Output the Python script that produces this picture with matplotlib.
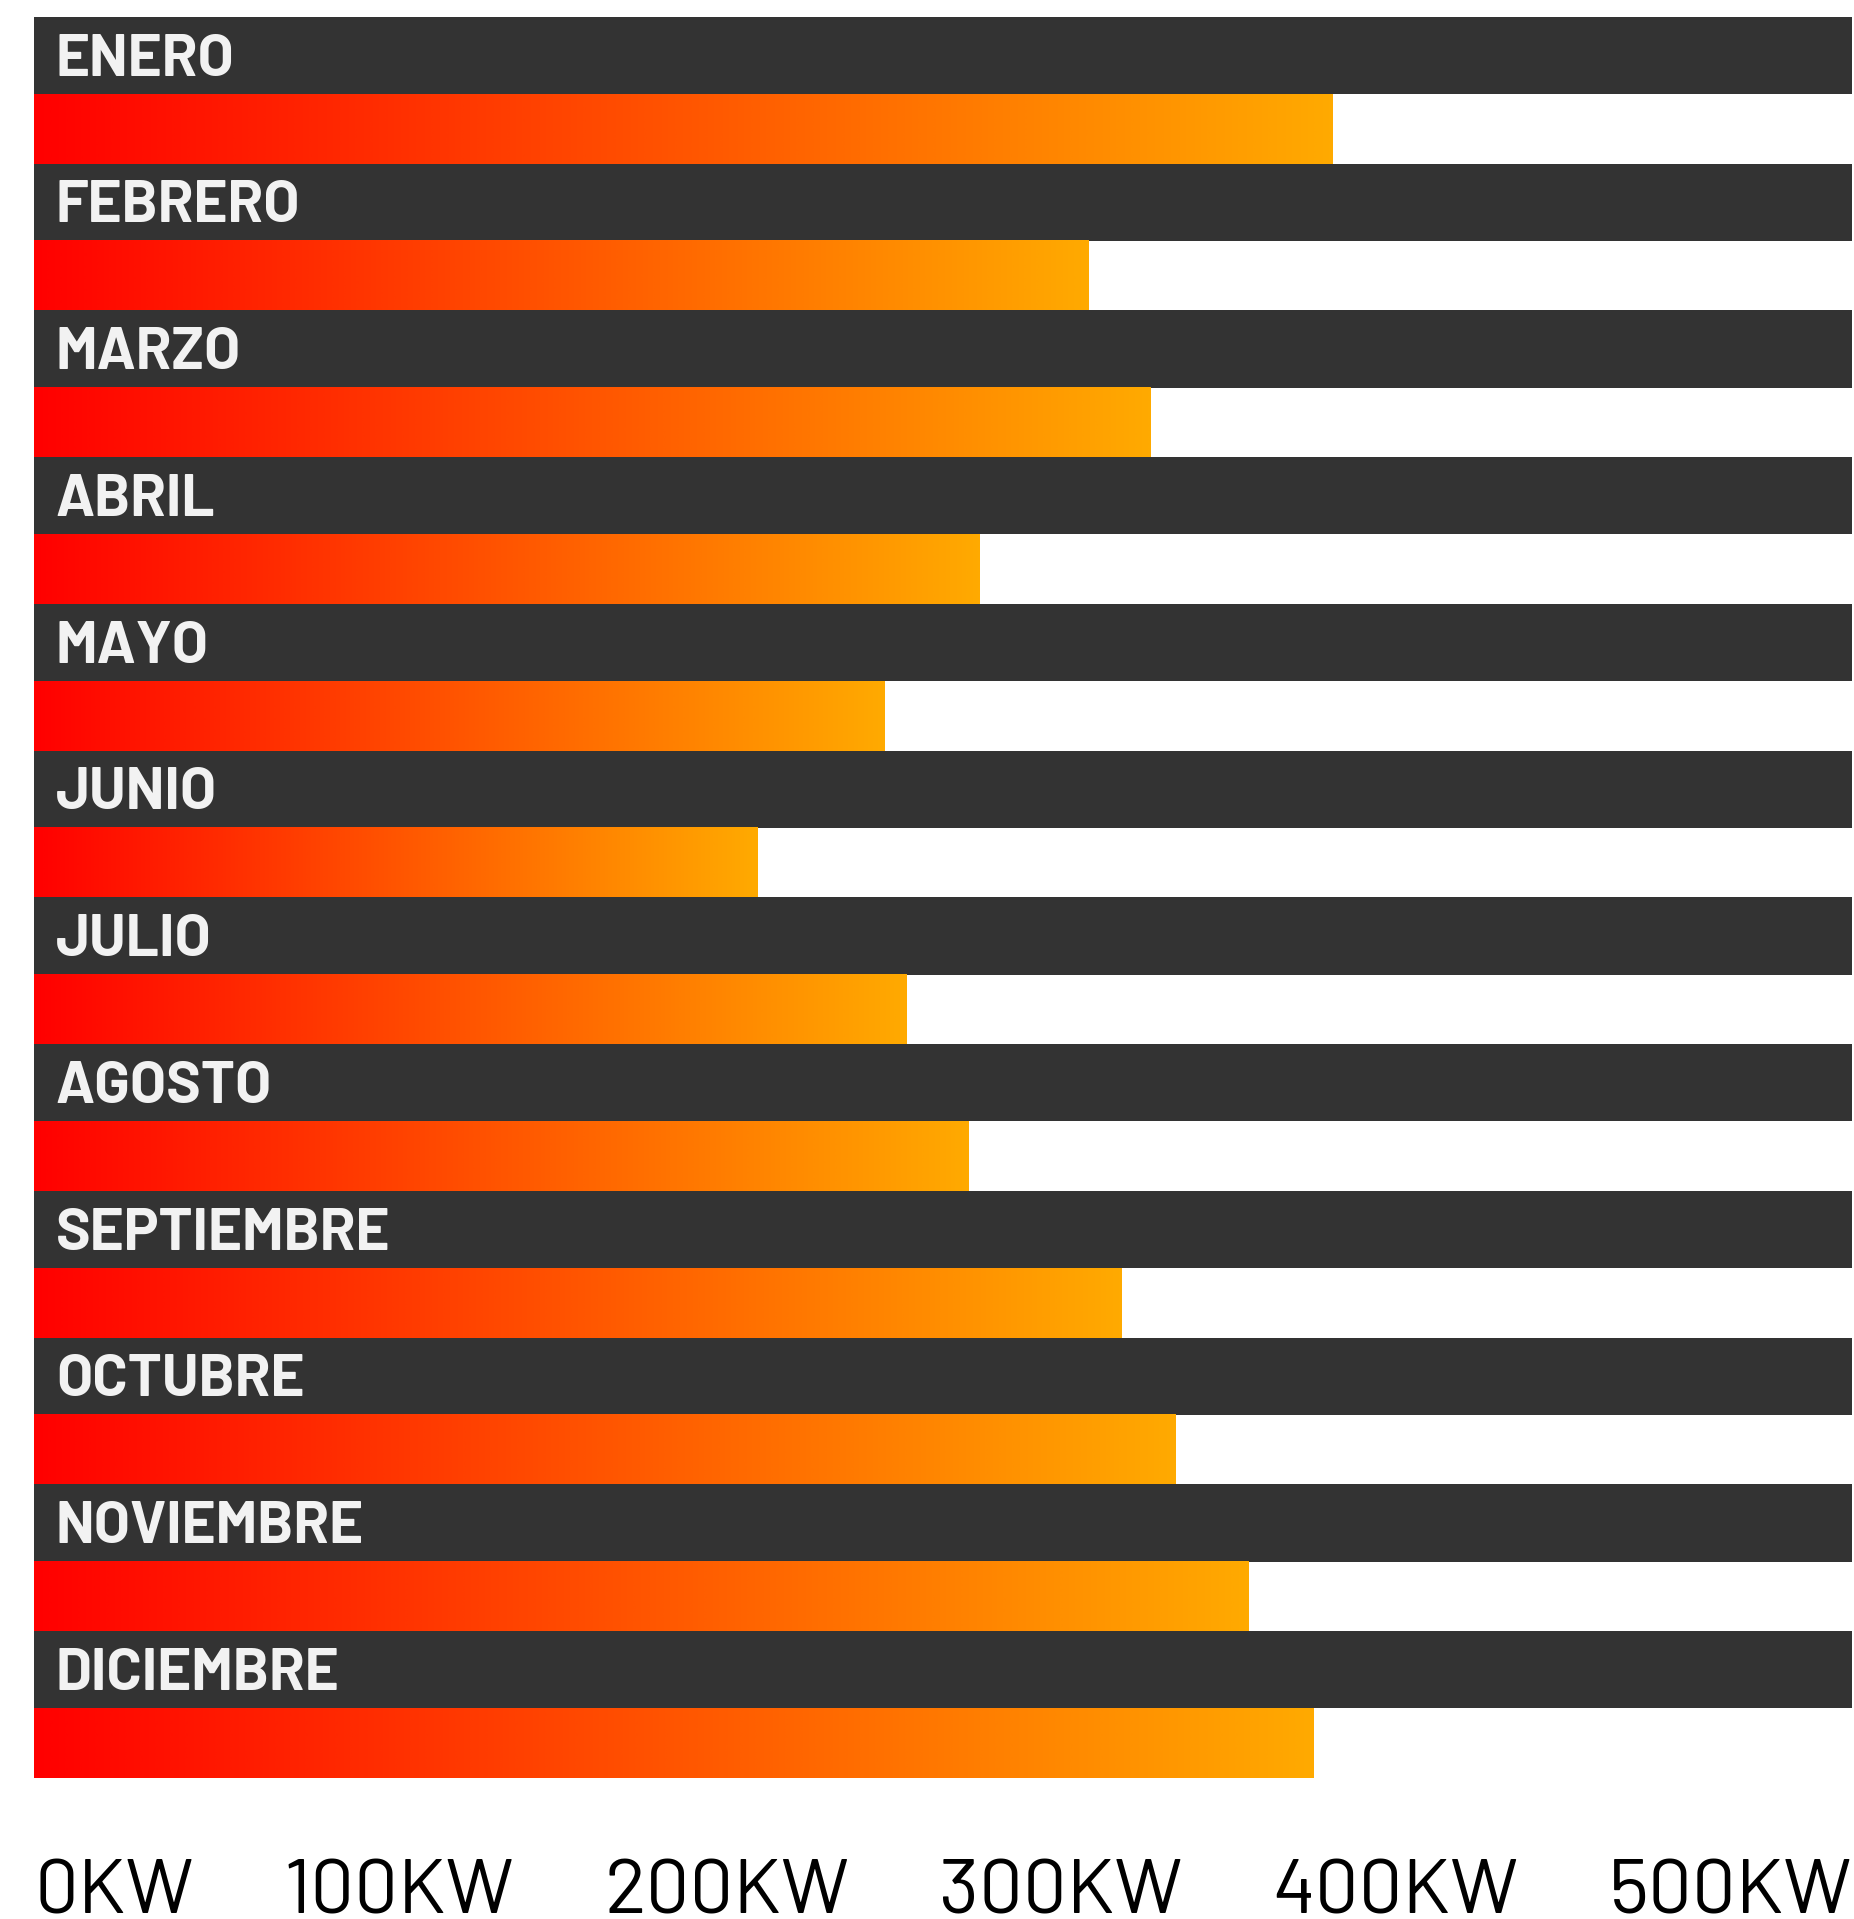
import matplotlib
matplotlib.use("Agg")
import matplotlib.pyplot as plt
import numpy as np
from matplotlib.colors import LinearSegmentedColormap

months = ["ENERO", "FEBRERO", "MARZO", "ABRIL", "MAYO", "JUNIO", "JULIO",
          "AGOSTO", "SEPTIEMBRE", "OCTUBRE", "NOVIEMBRE", "DICIEMBRE"]
values_kw = [357, 290, 307, 260, 234, 199, 240, 257, 299, 314, 334, 352]
axis_max = 500
tick_values = [0, 100, 200, 300, 400, 500]
tick_labels = ["0KW", "100KW", "200KW", "300KW", "400KW", "500KW"]

W, H, DPI = 1854, 1919, 100
fig = plt.figure(figsize=(W / DPI, H / DPI), dpi=DPI)
fig.patch.set_facecolor("white")

left_px, right_px, top_px, bot_px = 34, 1852, 17, 1778
ax = fig.add_axes([left_px / W, 1 - bot_px / H, (right_px - left_px) / W, (bot_px - top_px) / H])
ax.set_axis_off()

dark_h = 0.525
cmap = LinearSegmentedColormap.from_list("rg", ["#ff0000", "#ffaa00"])
grad = np.linspace(0, 1, 512).reshape(1, -1)

for i, (m, v) in enumerate(zip(months, values_kw)):
    ax.barh(i + dark_h / 2, axis_max, height=dark_h, left=0, color="#333333", linewidth=0)
    ax.imshow(grad, cmap=cmap, aspect="auto", extent=(0, v, i + 1, i + dark_h),
              interpolation="bilinear", zorder=2)
    ax.text(6, i + dark_h - 0.125, m, color="#f2f2f2", fontsize=42, fontweight="bold",
            family=["Barlow", "Roboto", "DejaVu Sans"], va="baseline", ha="left", zorder=3)

ax.set_xlim(0, axis_max)
ax.set_ylim(len(months), 0)

# tick labels distributed edge to edge (space-between)
texts = []
for lab in tick_labels:
    t = fig.text(0, 6 / H, lab, fontsize=56, color="black", fontweight="normal",
                 family=["Barlow", "DejaVu Sans"], va="baseline", ha="left")
    texts.append(t)
fig.canvas.draw()
r = fig.canvas.get_renderer()
widths = [t.get_window_extent(r).width for t in texts]
span = right_px - left_px
gap = (span - sum(widths)) / (len(texts) - 1)
x = left_px
for t, w in zip(texts, widths):
    t.set_x(x / W)
    x += w + gap

fig.savefig("out.png", dpi=DPI, facecolor="white")
